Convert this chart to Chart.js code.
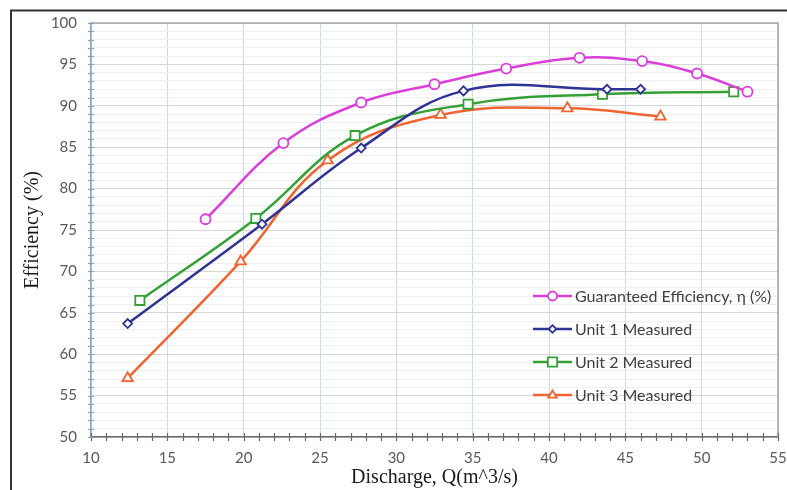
<!DOCTYPE html>
<html><head><meta charset="utf-8">
<script src="https://cdn.jsdelivr.net/npm/chart.js@4/dist/chart.umd.min.js"></script>
<style>html,body{margin:0;padding:0;background:#fff}#wrap{width:787px;height:490px;position:relative}</style>
</head><body><div id="wrap"><canvas id="c" width="787" height="490"></canvas></div>
<script>
// ---- data ----
const guaranteedQ   = [17.5, 22.6, 27.7, 32.5, 37.2, 42.0, 46.1, 49.7, 53.0];
const guaranteedEff = [76.3, 85.5, 90.4, 92.6, 94.5, 95.8, 95.4, 93.9, 91.7];
const unit1Q   = [12.4, 21.2, 27.7, 34.4, 43.8, 46.0];
const unit1Eff = [63.7, 75.7, 84.9, 91.8, 92.0, 92.0];
const unit2Q   = [13.2, 20.8, 27.3, 34.7, 43.5, 52.1];
const unit2Eff = [66.5, 76.4, 86.4, 90.2, 91.4, 91.7];
const unit3Q   = [12.4, 19.8, 25.5, 32.9, 41.2, 47.3];
const unit3Eff = [57.1, 71.2, 83.4, 88.9, 89.7, 88.7];
const seriesLabels = ['Guaranteed Efficiency, η (%)', 'Unit 1 Measured', 'Unit 2 Measured', 'Unit 3 Measured'];
const xTitle = 'Discharge, Q(m^3/s)';
const yTitle = 'Efficiency (%)';
const xMin = 10, xMax = 55, yMin = 50, yMax = 100, majorStep = 5;

const pts = (xs, ys) => xs.map((x, i) => ({x, y: ys[i]}));

const styles = [
  {color: '#d93fd9', pointStyle: 'circle', r: 5},
  {color: '#2f3393', pointStyle: 'rectRot', r: 4.5},
  {color: '#35a035', pointStyle: 'rect', r: 6.5},
  {color: '#ee6433', pointStyle: 'triangle', r: 6}
];
const seriesData = [pts(guaranteedQ, guaranteedEff), pts(unit1Q, unit1Eff), pts(unit2Q, unit2Eff), pts(unit3Q, unit3Eff)];

const datasets = seriesData.map((d, i) => ({
  label: seriesLabels[i],
  data: d,
  showLine: true,
  tension: 0.4,
  borderColor: styles[i].color,
  borderWidth: 2.5,
  pointStyle: styles[i].pointStyle,
  pointRadius: styles[i].r,
  pointHoverRadius: styles[i].r,
  pointBackgroundColor: '#ffffff',
  pointBorderColor: styles[i].color,
  pointBorderWidth: 1.8
}));

function drawMarker(ctx, style, x, y, r) {
  ctx.beginPath();
  if (style === 'circle') {
    ctx.arc(x, y, r, 0, Math.PI * 2);
  } else if (style === 'rectRot') {
    ctx.moveTo(x, y - r); ctx.lineTo(x + r, y); ctx.lineTo(x, y + r); ctx.lineTo(x - r, y); ctx.closePath();
  } else if (style === 'rect') {
    const s = r * 0.85;
    ctx.rect(x - s, y - s, 2 * s, 2 * s);
  } else if (style === 'triangle') {
    ctx.moveTo(x, y - r); ctx.lineTo(x + r * 0.95, y + r * 0.6); ctx.lineTo(x - r * 0.95, y + r * 0.6); ctx.closePath();
  }
  ctx.fill(); ctx.stroke();
}

const framePlugin = {
  id: 'frame',
  beforeDraw(chart) {
    const ctx = chart.ctx;
    ctx.save();
    ctx.fillStyle = '#ffffff';
    ctx.fillRect(0, 0, chart.width, chart.height);
    ctx.strokeStyle = '#333333';
    ctx.lineWidth = 2;
    ctx.beginPath();
    ctx.moveTo(11, 490); ctx.lineTo(11, 10.5); ctx.lineTo(787, 10.5);
    ctx.stroke();
    ctx.restore();
  },
  beforeDatasetsDraw(chart) {
    const ctx = chart.ctx, a = chart.chartArea;
    const xs = chart.scales.x, ys = chart.scales.y;
    ctx.save();
    ctx.strokeStyle = '#a6a6a6';
    ctx.lineWidth = 1.5;
    ctx.beginPath();
    ctx.moveTo(a.left, a.top); ctx.lineTo(a.right, a.top); ctx.lineTo(a.right, a.bottom);
    ctx.stroke();
    // crossing tick marks on the x axis
    ctx.strokeStyle = '#6b6b6b';
    ctx.lineWidth = 1.2;
    for (let v = xMin; v <= xMax; v++) {
      const px = Math.round(xs.getPixelForValue(v)) + 0.5;
      ctx.beginPath(); ctx.moveTo(px, a.bottom - 4); ctx.lineTo(px, a.bottom + 4); ctx.stroke();
    }
    // crossing tick marks on the y axis
    ctx.strokeStyle = '#8aa3b8';
    for (let v = yMin; v <= yMax; v++) {
      const py = Math.round(ys.getPixelForValue(v)) + 0.5;
      ctx.beginPath(); ctx.moveTo(a.left - 3, py); ctx.lineTo(a.left + 3, py); ctx.stroke();
    }
    ctx.restore();
  },
  afterDraw(chart) {
    const ctx = chart.ctx;
    ctx.save();
    const lx0 = 533, lx1 = 572, tx = 575, rows = [296, 329, 362, 395];
    ctx.font = '16px Lato, "Open Sans", sans-serif';
    ctx.textBaseline = 'middle';
    chart.data.datasets.forEach((ds, i) => {
      const y = rows[i];
      ctx.strokeStyle = ds.borderColor;
      ctx.lineWidth = 2.5;
      ctx.beginPath(); ctx.moveTo(lx0, y); ctx.lineTo(lx1, y); ctx.stroke();
      ctx.fillStyle = '#ffffff';
      ctx.lineWidth = 1.8;
      drawMarker(ctx, ds.pointStyle, (lx0 + lx1) / 2, y, ds.pointStyle === 'rect' ? 5.5 : (ds.pointStyle === 'rectRot' ? 3.8 : 4.5));
      ctx.fillStyle = '#404040';
      ctx.fillText(ds.label, tx, y + 1);
    });
    ctx.restore();
  }
};

const tickFont = {family: 'Lato, "Open Sans", sans-serif', size: 15};

new Chart(document.getElementById('c'), {
  type: 'scatter',
  data: {datasets},
  plugins: [framePlugin],
  options: {
    responsive: false,
    animation: false,
    layout: {padding: {left: 0, top: 23, right: 0, bottom: 0}},
    plugins: {legend: {display: false}, tooltip: {enabled: false}},
    scales: {
      x: {
        type: 'linear', min: xMin, max: xMax,
        afterFit(s) { s.height = 53; s.paddingRight = 9; s.paddingLeft = 0; },
        ticks: {
          stepSize: 1, autoSkip: false, maxRotation: 0, padding: 12,
          color: '#595959', font: tickFont,
          callback: v => (v % majorStep === 0 ? v : '')
        },
        grid: {
          drawTicks: false,
          color: c => (c.tick && c.tick.value % majorStep === 0 ? '#c8dae8' : 'rgba(0,0,0,0)'),
          lineWidth: 1
        },
        border: {display: true, color: '#6b6b6b', width: 1.5},
        title: {display: true, text: xTitle, color: '#1a1a1a',
          font: {family: '"Liberation Serif", "Times New Roman", serif', size: 20},
          padding: {top: 0, bottom: 0}}
      },
      y: {
        type: 'linear', min: yMin, max: yMax,
        afterFit(s) { s.width = 91; },
        ticks: {
          stepSize: 1, autoSkip: false, padding: 14,
          color: '#595959', font: tickFont,
          callback: v => (v % majorStep === 0 ? v : '')
        },
        grid: {
          drawTicks: false,
          color: c => (c.tick && c.tick.value % majorStep === 0 ? '#d6d6d6' : '#eeeeee'),
          lineWidth: 1
        },
        border: {display: true, color: '#8aa3b8', width: 1.5},
        title: {display: true, text: yTitle, color: '#1a1a1a',
          font: {family: '"Liberation Serif", "Times New Roman", serif', size: 20},
          padding: {top: 21, bottom: 0}}
      }
    }
  }
});
</script>
</body></html>
